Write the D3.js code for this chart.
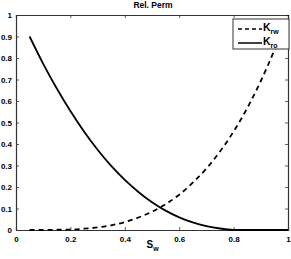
<!DOCTYPE html>
<html>
<head>
<meta charset="utf-8">
<script src="https://cdn.jsdelivr.net/npm/d3@7"></script>
<style>
  body { margin: 0; background: #fff; }
  svg text { font-family: "Liberation Sans", Arial, sans-serif; font-weight: bold; }
</style>
</head>
<body>
<div class="canvas"></div>
<script>
// data
const sw  = [0.05, 0.10, 0.15, 0.20, 0.25, 0.30, 0.35, 0.40, 0.45, 0.50,
             0.55, 0.60, 0.65, 0.70, 0.75, 0.80, 0.85, 0.90, 0.95, 1.00];
const krw = [0, 0, 0.001, 0.002, 0.006, 0.012, 0.022, 0.037, 0.058, 0.085,
             0.120, 0.164, 0.220, 0.286, 0.365, 0.458, 0.567, 0.693, 0.837, 1.0];
const kro = [0.9, 0.773, 0.658, 0.553, 0.458, 0.373, 0.298, 0.233, 0.177, 0.129,
             0.090, 0.059, 0.035, 0.018, 0.007, 0.001, 0, 0, 0, 0];
const xTicks = [0, 0.2, 0.4, 0.6, 0.8, 1];
const yTicks = [0, 0.1, 0.2, 0.3, 0.4, 0.5, 0.6, 0.7, 0.8, 0.9, 1];

const margin = { top: 15, right: 3, bottom: 29, left: 16 };
const width = 291 - margin.left - margin.right;
const height = 259 - margin.top - margin.bottom;

const x = d3.scaleLinear().domain([0, 1]).range([0, width]);
const y = d3.scaleLinear().domain([0, 1]).range([height, 0]);

const svg = d3.select(".canvas")
    .append("svg")
      .attr("width", 291)
      .attr("height", 259)
    .append("g")
      .attr("transform", `translate(${margin.left}, ${margin.top})`);

// title
svg.append("text")
    .attr("x", x(0.5) + 1)
    .attr("y", -7)
    .attr("text-anchor", "middle")
    .attr("font-size", 8.5)
    .text("Rel. Perm");

// axes, ticks pointing inward like matlab
const axisColor = "#333";
const fmt = d => d === 0 || d === 1 ? d3.format("d")(d) : d3.format(".1f")(d);
const axBottom = svg.append("g")
    .attr("transform", `translate(0,${height})`)
    .call(d3.axisBottom(x).tickValues(xTicks).tickSize(-3).tickPadding(6).tickFormat(fmt));
const axLeft = svg.append("g")
    .call(d3.axisLeft(y).tickValues(yTicks).tickSize(-3).tickPadding(4).tickFormat(fmt));
const axTop = svg.append("g")
    .call(d3.axisTop(x).tickValues(xTicks).tickSize(-3).tickFormat(""));
const axRight = svg.append("g")
    .attr("transform", `translate(${width},0)`)
    .call(d3.axisRight(y).tickValues(yTicks).tickSize(-3).tickFormat(""));

[axBottom, axLeft, axTop, axRight].forEach(g => {
  g.select(".domain").attr("stroke", axisColor).attr("stroke-width", 1.2);
  g.selectAll(".tick line").attr("stroke", axisColor).attr("stroke-width", 0.8);
  g.selectAll("text").attr("font-size", 8).attr("fill", "#000")
    .attr("font-family", "Liberation Sans, Arial, sans-serif").attr("font-weight", "bold");
});

// x label with subscript
const xl = svg.append("text")
    .attr("x", x(0.48))
    .attr("y", height + 18)
    .attr("font-size", 10)
    .attr("font-weight", "normal");
xl.append("tspan").text("S");
xl.append("tspan").attr("font-size", 7).attr("dy", 3).text("w");

// lines
const rows = sw.map((s, i) => ({ s: s, w: krw[i], o: kro[i] }));

const lineW = d3.line().x(d => x(d.s)).y(d => y(d.w)).curve(d3.curveMonotoneX);
const lineO = d3.line().x(d => x(d.s)).y(d => y(d.o)).curve(d3.curveMonotoneX);

svg.append("path")
    .datum(rows)
    .attr("fill", "none")
    .attr("stroke", "#000")
    .attr("stroke-width", 1.8)
    .attr("stroke-dasharray", "5,4")
    .attr("d", lineW);

svg.append("path")
    .datum(rows)
    .attr("fill", "none")
    .attr("stroke", "#000")
    .attr("stroke-width", 1.8)
    .attr("d", lineO);

// legend
const lg = svg.append("g").attr("transform", `translate(${233 - margin.left}, ${19 - margin.top})`);
lg.append("rect")
    .attr("width", 56)
    .attr("height", 30)
    .attr("fill", "#fff")
    .attr("stroke", axisColor)
    .attr("stroke-width", 1);

const items = [
  { name: "rw", dash: "4,3", yy: 10 },
  { name: "ro", dash: null, yy: 24 }
];
items.forEach(it => {
  lg.append("line")
      .attr("x1", 5).attr("x2", 29)
      .attr("y1", it.yy).attr("y2", it.yy)
      .attr("stroke", "#000")
      .attr("stroke-width", 1.5)
      .attr("stroke-dasharray", it.dash);
  const t = lg.append("text")
      .attr("x", 30)
      .attr("y", it.yy + 2)
      .attr("font-size", 10.5)
      .attr("font-weight", "normal");
  t.append("tspan").text("K");
  t.append("tspan").attr("font-size", 7).attr("dy", 2.5).text(it.name);
});
</script>
</body>
</html>
